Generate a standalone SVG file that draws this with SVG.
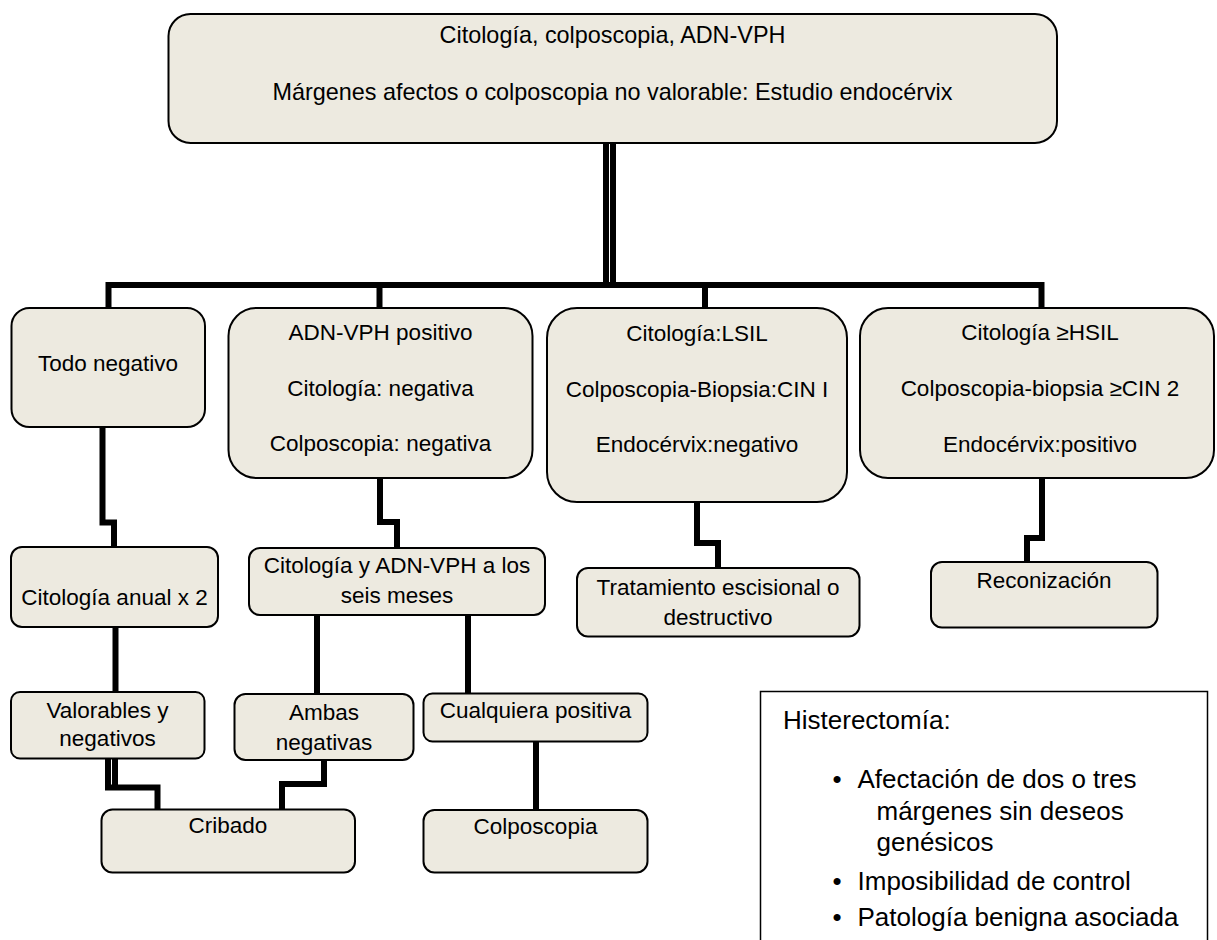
<svg xmlns="http://www.w3.org/2000/svg" width="1217" height="940" viewBox="0 0 1217 940">
<style>
.box{fill:#EDEAE0;stroke:#000;stroke-width:2}
.t{font-family:"Liberation Sans",Arial,sans-serif;font-size:22.5px;fill:#000;text-anchor:middle}
.tt{font-family:"Liberation Sans",Arial,sans-serif;font-size:23.4px;fill:#000;text-anchor:middle}
.h{font-family:"Liberation Sans",Arial,sans-serif;font-size:26px;fill:#000}
.c{fill:none;stroke:#000;stroke-width:6;stroke-linejoin:miter;stroke-linecap:butt}
</style>
<rect width="1217" height="940" fill="#fff"/>
<g id="connectors">
<line class="c" x1="606" y1="143" x2="606" y2="286"/>
<line class="c" x1="613" y1="143" x2="613" y2="286"/>
<path class="c" d="M108.5 308 V285 H1041.5 V308"/>
<line class="c" x1="379.5" y1="285" x2="379.5" y2="308"/>
<line class="c" x1="705" y1="285" x2="705" y2="308"/>
<path class="c" d="M102.5 427 V522.5 H114 V547"/>
<path class="c" d="M380 478 V522 H397 V548"/>
<path class="c" d="M697 502 V543 H718 V568"/>
<path class="c" d="M1042 478 V538 H1027 V562"/>
<line class="c" x1="115.5" y1="627" x2="115.5" y2="692"/>
<line class="c" x1="317" y1="615" x2="317" y2="694"/>
<line class="c" x1="468" y1="615" x2="468" y2="693"/>
<line class="c" x1="536" y1="742" x2="536" y2="810"/>
<path class="c" d="M108 758 V787.5 H157.5 V809"/>
<line class="c" x1="115" y1="758" x2="115" y2="788"/>
<path class="c" d="M324 760 V784 H282 V809"/>
</g>
<g id="n-top">
<rect class="box" x="168.5" y="14" width="888.5" height="129" rx="22"/>
<text class="tt" x="612.5" y="43">Citología, colposcopia, ADN-VPH</text>
<text class="tt" x="612.5" y="100">Márgenes afectos o colposcopia no valorable: Estudio endocérvix</text>
</g>
<g id="n-todo">
<rect class="box" x="11.5" y="308" width="193.5" height="119" rx="18"/>
<text class="t" x="108" y="371">Todo negativo</text>
</g>
<g id="n-adn">
<rect class="box" x="228.5" y="308" width="304" height="170" rx="28"/>
<text class="t" x="380.5" y="340">ADN-VPH positivo</text>
<text class="t" x="380.5" y="396">Citología: negativa</text>
<text class="t" x="380.5" y="451">Colposcopia: negativa</text>
</g>
<g id="n-lsil">
<rect class="box" x="547" y="308" width="300" height="194" rx="30"/>
<text class="t" x="697" y="341">Citología:LSIL</text>
<text class="t" x="697" y="397">Colposcopia-Biopsia:CIN I</text>
<text class="t" x="697" y="452">Endocérvix:negativo</text>
</g>
<g id="n-hsil">
<rect class="box" x="860" y="308" width="354" height="170" rx="28"/>
<text class="t" x="1040" y="340">Citología ≥HSIL</text>
<text class="t" x="1040" y="396">Colposcopia-biopsia ≥CIN 2</text>
<text class="t" x="1040" y="452">Endocérvix:positivo</text>
</g>
<g id="n-anual">
<rect class="box" x="11" y="547" width="207" height="80" rx="11"/>
<text class="t" x="114.5" y="605">Citología anual x 2</text>
</g>
<g id="n-seis">
<rect class="box" x="249" y="548" width="296" height="67" rx="11"/>
<text class="t" x="397" y="573">Citología y ADN-VPH a los</text>
<text class="t" x="397" y="603">seis meses</text>
</g>
<g id="n-trat">
<rect class="box" x="577" y="568" width="282.5" height="68.5" rx="11"/>
<text class="t" x="718" y="595">Tratamiento escisional o</text>
<text class="t" x="718" y="625">destructivo</text>
</g>
<g id="n-recon">
<rect class="box" x="931" y="562" width="226.5" height="65.5" rx="11"/>
<text class="t" x="1044" y="588">Reconización</text>
</g>
<g id="n-valorables">
<rect class="box" x="11" y="692" width="193.5" height="66.5" rx="9"/>
<text class="t" x="107.5" y="718">Valorables y</text>
<text class="t" x="107.5" y="746">negativos</text>
</g>
<g id="n-ambas">
<rect class="box" x="234.5" y="694" width="179" height="66" rx="11"/>
<text class="t" x="324" y="720">Ambas</text>
<text class="t" x="324" y="750">negativas</text>
</g>
<g id="n-cualquiera">
<rect class="box" x="423.5" y="693.5" width="224" height="48" rx="9"/>
<text class="t" x="535.5" y="718">Cualquiera positiva</text>
</g>
<g id="n-cribado">
<rect class="box" x="101.5" y="809.5" width="253.5" height="63" rx="11"/>
<text class="t" x="228" y="833">Cribado</text>
</g>
<g id="n-colpo">
<rect class="box" x="423.5" y="810" width="224" height="62.5" rx="11"/>
<text class="t" x="535.5" y="834">Colposcopia</text>
</g>
<g id="n-histerectomia">
<rect x="760.5" y="691.5" width="447" height="270" fill="#fff" stroke="#000" stroke-width="1.5"/>
<text class="h" x="783" y="729">Histerectomía:</text>
<text class="h" x="832.5" y="788">•</text>
<text class="h" x="857.5" y="788">Afectación de dos o tres</text>
<text class="h" x="876.5" y="820">márgenes sin deseos</text>
<text class="h" x="876.5" y="851">genésicos</text>
<text class="h" x="832.5" y="890">•</text>
<text class="h" x="857.5" y="890">Imposibilidad de control</text>
<text class="h" x="832.5" y="926">•</text>
<text class="h" x="857.5" y="926">Patología benigna asociada</text>
</g>
</svg>
